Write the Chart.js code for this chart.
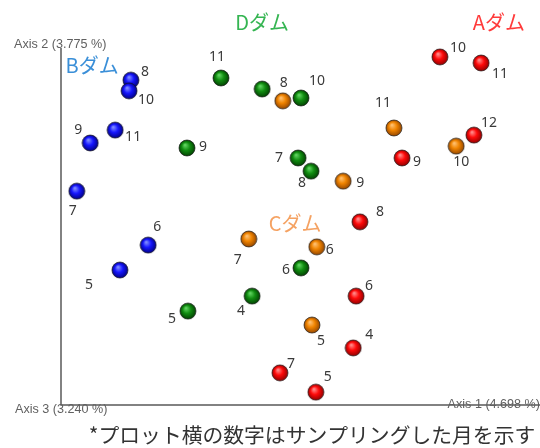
<!DOCTYPE html>
<html>
<head>
<meta charset="utf-8">
<script src="https://cdn.jsdelivr.net/npm/chart.js@4/dist/chart.umd.min.js"></script>
<style>
  html, body { margin: 0; padding: 0; background: #fff; overflow: hidden; }
  #pcoa { display: block; }
</style>
</head>
<body>
<canvas id="pcoa" width="540" height="448"></canvas>
<script>
// PCoA scores (Axis 1 / Axis 2, scaled 0-100) per dam, with sampling month
const monthsA = [10, 11, 12, 9, 8, 6, 4, 7, 5];
const axis1A = [79.1, 87.7, 86.2, 71.2, 62.4, 61.6, 61.0, 45.7, 53.2];
const axis2A = [97.5, 95.8, 75.6, 69.2, 51.3, 30.5, 16.0, 9.0, 3.6];

const monthsB = [8, 10, 11, 9, 7, 6, 5];
const axis1B = [14.6, 14.2, 11.3, 6.1, 3.3, 18.2, 12.3];
const axis2B = [91.0, 88.0, 77.0, 73.4, 59.9, 44.8, 37.8];

const monthsC = [8, 11, 9, 10, 7, 6, 5];
const axis1C = [46.3, 69.5, 58.9, 82.5, 39.2, 53.4, 52.4];
const axis2C = [85.2, 77.6, 62.7, 72.5, 46.5, 44.3, 22.4];

const monthsD = [11, null, 10, 9, 7, 8, 6, 4, 5];
const axis1D = [33.4, 42.0, 50.1, 26.3, 49.5, 52.2, 50.1, 39.9, 26.5];
const axis2D = [91.6, 88.5, 86.0, 72.0, 69.2, 65.5, 38.4, 30.5, 26.3];

const damNames = ['Aダム', 'Bダム', 'Cダム', 'Dダム'];
const axisTitles = ['Axis 1 (4.698 %)', 'Axis 2 (3.775 %)', 'Axis 3 (3.240 %)'];
const footnote = '*プロット横の数字はサンプリングした月を示す';

// where each month number sits relative to its point, in px
const labelOffsA = [[18,-9],[19,11],[15,-12],[15,4],[20,-10],[13,-10],[16,-13],[11,-9],[12,-15]];
const labelOffsB = [[14,-8],[17,9],[18,7],[-12,-13],[-4,20],[9,-18],[-31,15]];
const labelOffsC = [[1,-18],[-11,-25],[17,2],[5,16],[-11,21],[13,3],[9,16]];
const labelOffsD = [[-4,-21],null,[16,-17],[16,-1],[-19,0],[-9,12],[-15,2],[-11,15],[-16,8]];

// name tags, placed in chart units
const tagPos = [[91.4, 107.3], [6.5, 95.0], [48.9, 51.0], [42.0, 107.3]];
const tagColors = ['#ff3b3b', '#3a8fd8', '#f5a262', '#35b552'];

function sphere(light, base, dark) {
  const c = document.createElement('canvas');
  c.width = c.height = 18;
  const x = c.getContext('2d');
  const g = x.createRadialGradient(7, 6, 0.5, 9, 9, 8.5);
  g.addColorStop(0, light);
  g.addColorStop(0.45, base);
  g.addColorStop(1, dark);
  x.beginPath();
  x.arc(9, 9, 8, 0, Math.PI * 2);
  x.fillStyle = g;
  x.fill();
  x.lineWidth = 0.9;
  x.strokeStyle = 'rgba(20,20,20,0.75)';
  x.stroke();
  return c;
}

const balls = [
  sphere('#ff8a8a', '#ff0a0a', '#8a0000'),
  sphere('#7f8cff', '#1616ff', '#00007a'),
  sphere('#ffc070', '#f08400', '#8f4300'),
  sphere('#5fd35f', '#118d11', '#013d01')
];

function pts(xs, ys) {
  return xs.map((v, i) => ({ x: v, y: ys[i] }));
}

const series = [
  { data: pts(axis1A, axis2A), months: monthsA, offs: labelOffsA },
  { data: pts(axis1B, axis2B), months: monthsB, offs: labelOffsB },
  { data: pts(axis1C, axis2C), months: monthsC, offs: labelOffsC },
  { data: pts(axis1D, axis2D), months: monthsD, offs: labelOffsD }
];

const axesPlugin = {
  id: 'axes3d',
  beforeDatasetsDraw(chart) {
    const { ctx, chartArea: a } = chart;
    ctx.save();
    ctx.strokeStyle = '#5a5a5a';
    ctx.lineWidth = 1.5;
    ctx.beginPath();
    ctx.moveTo(a.left, a.top);
    ctx.lineTo(a.left, a.bottom);
    ctx.lineTo(a.right, a.bottom);
    ctx.stroke();
    ctx.font = '12.6px "Liberation Sans", Arial, sans-serif';
    ctx.fillStyle = '#606060';
    ctx.textBaseline = 'middle';
    ctx.textAlign = 'left';
    ctx.fillText(axisTitles[1], 14, a.top - 3);
    ctx.fillText(axisTitles[2], 15, a.bottom + 5);
    ctx.textAlign = 'right';
    ctx.fillText(axisTitles[0], a.right, a.bottom);
    ctx.restore();
  },
  afterDatasetsDraw(chart) {
    const { ctx, scales } = chart;
    ctx.save();
    ctx.textBaseline = 'middle';
    ctx.textAlign = 'center';
    ctx.font = '14px "Noto Sans", "DejaVu Sans", sans-serif';
    ctx.fillStyle = '#3a3a3a';
    series.forEach((s, di) => {
      chart.getDatasetMeta(di).data.forEach((p, i) => {
        if (s.months[i] == null) return;
        const o = s.offs[i];
        ctx.fillText(String(s.months[i]), p.x + o[0], p.y + o[1]);
      });
    });
    ctx.font = '20px "Noto Sans CJK JP", sans-serif';
    damNames.forEach((n, i) => {
      ctx.fillStyle = tagColors[i];
      ctx.fillText(n, scales.x.getPixelForValue(tagPos[i][0]), scales.y.getPixelForValue(tagPos[i][1]));
    });
    ctx.font = '20.8px "Noto Sans CJK JP", sans-serif';
    ctx.fillStyle = '#333';
    ctx.fillText(footnote, 312, 435);
    ctx.restore();
  }
};

new Chart(document.getElementById('pcoa'), {
  type: 'scatter',
  data: {
    datasets: series.map((s, i) => ({
      label: damNames[i],
      data: s.data,
      pointStyle: balls[i],
      pointRadius: 9,
      clip: false
    }))
  },
  options: {
    responsive: false,
    animation: false,
    layout: { autoPadding: false, padding: { left: 61, right: 0, top: 48, bottom: 43 } },
    scales: {
      x: { type: 'linear', min: 0, max: 100, display: false },
      y: { type: 'linear', min: 0, max: 100, display: false }
    },
    plugins: { legend: { display: false }, tooltip: { enabled: false } }
  },
  plugins: [axesPlugin]
});
</script>
</body>
</html>
